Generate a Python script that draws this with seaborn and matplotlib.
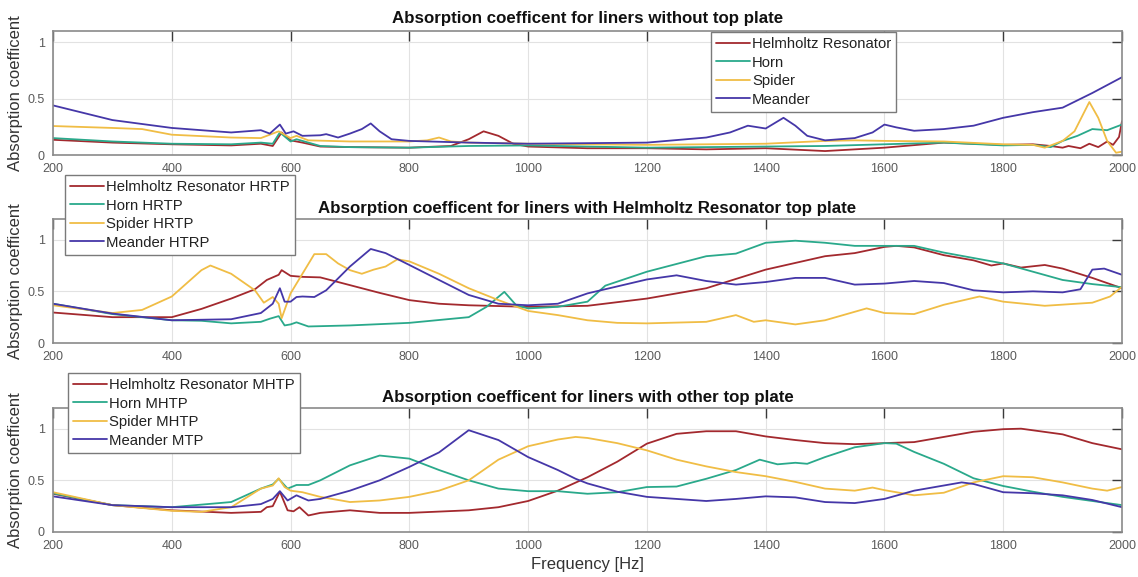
import numpy as np
import pandas as pd
import matplotlib.pyplot as plt
import seaborn as sns

# ---- panel 1: liners without top plate ----
hr_top_f = [200, 300, 400, 500, 550, 570, 585, 600, 620, 650, 700, 800, 870, 900, 925, 950, 975, 1000,
            1100, 1200, 1300, 1400, 1500, 1600, 1700, 1800, 1850, 1880, 1900, 1910, 1930, 1945, 1960,
            1975, 1985, 1995, 2000]
hr_top_a = [0.135, 0.11, 0.095, 0.085, 0.10, 0.08, 0.20, 0.13, 0.11, 0.075, 0.07, 0.065, 0.08, 0.14, 0.21,
            0.17, 0.10, 0.075, 0.06, 0.06, 0.05, 0.06, 0.035, 0.065, 0.11, 0.09, 0.095, 0.08, 0.065, 0.08,
            0.06, 0.10, 0.07, 0.12, 0.09, 0.16, 0.30]

horn_top_f = [200, 300, 400, 500, 550, 570, 582, 600, 610, 650, 700, 800, 900, 1000, 1100, 1200, 1400,
              1500, 1600, 1700, 1800, 1850, 1880, 1900, 1925, 1950, 1975, 2000]
horn_top_a = [0.15, 0.12, 0.10, 0.095, 0.11, 0.10, 0.20, 0.12, 0.14, 0.08, 0.07, 0.065, 0.08, 0.085,
              0.075, 0.065, 0.075, 0.08, 0.095, 0.11, 0.085, 0.09, 0.07, 0.125, 0.17, 0.23, 0.22, 0.27]

spider_top_f = [200, 300, 350, 400, 500, 550, 580, 600, 610, 630, 700, 800, 830, 850, 870, 900, 1000,
                1200, 1400, 1500, 1550, 1600, 1700, 1800, 1850, 1870, 1900, 1920, 1945, 1960, 1975,
                1990, 2000]
spider_top_a = [0.257, 0.24, 0.23, 0.18, 0.155, 0.15, 0.21, 0.15, 0.17, 0.13, 0.12, 0.12, 0.13, 0.155,
                0.12, 0.11, 0.10, 0.09, 0.10, 0.125, 0.13, 0.125, 0.12, 0.095, 0.09, 0.065, 0.125, 0.21,
                0.47, 0.33, 0.125, 0.02, 0.03]

meander_top_f = [200, 300, 400, 500, 550, 565, 582, 592, 605, 620, 650, 660, 680, 700, 720, 735, 750,
                 770, 800, 900, 1000, 1200, 1300, 1340, 1370, 1400, 1430, 1450, 1470, 1500, 1550, 1580,
                 1600, 1620, 1650, 1700, 1750, 1800, 1850, 1900, 1950, 2000]
meander_top_a = [0.44, 0.31, 0.24, 0.20, 0.22, 0.19, 0.27, 0.19, 0.21, 0.17, 0.175, 0.185, 0.155, 0.19,
                 0.23, 0.28, 0.21, 0.14, 0.125, 0.11, 0.10, 0.11, 0.155, 0.20, 0.26, 0.235, 0.33, 0.26,
                 0.17, 0.13, 0.15, 0.20, 0.27, 0.245, 0.215, 0.23, 0.26, 0.33, 0.38, 0.42, 0.55, 0.69]

# ---- panel 2: Helmholtz resonator top plate ----
hr_mid_f = [200, 300, 400, 450, 500, 540, 560, 580, 585, 600, 620, 650, 700, 750, 800, 850, 900, 1000,
            1100, 1200, 1300, 1400, 1500, 1550, 1600, 1620, 1650, 1700, 1750, 1780, 1800, 1830, 1870,
            1900, 1950, 2000]
hr_mid_a = [0.295, 0.25, 0.25, 0.33, 0.43, 0.52, 0.61, 0.66, 0.705, 0.65, 0.64, 0.635, 0.56, 0.485,
            0.415, 0.38, 0.365, 0.35, 0.36, 0.43, 0.53, 0.71, 0.84, 0.87, 0.93, 0.94, 0.925, 0.85, 0.80,
            0.75, 0.77, 0.73, 0.755, 0.72, 0.63, 0.53]

horn_mid_f = [200, 300, 400, 450, 500, 550, 565, 580, 590, 600, 610, 630, 700, 800, 900, 930, 960, 980,
              1000, 1050, 1100, 1130, 1200, 1300, 1350, 1400, 1450, 1500, 1550, 1600, 1650, 1700, 1800,
              1900, 1950, 2000]
horn_mid_a = [0.38, 0.28, 0.22, 0.215, 0.19, 0.205, 0.235, 0.26, 0.17, 0.18, 0.20, 0.16, 0.17, 0.195,
              0.25, 0.35, 0.495, 0.365, 0.335, 0.35, 0.40, 0.555, 0.69, 0.84, 0.865, 0.97, 0.99, 0.97,
              0.94, 0.94, 0.94, 0.875, 0.77, 0.61, 0.57, 0.54]

spider_mid_f = [200, 300, 350, 400, 450, 465, 500, 540, 555, 570, 580, 585, 600, 620, 640, 660, 680, 700,
                720, 740, 760, 780, 800, 850, 900, 950, 1000, 1050, 1100, 1150, 1200, 1300, 1350, 1380,
                1400, 1450, 1500, 1570, 1600, 1650, 1700, 1760, 1800, 1870, 1950, 1980, 2000]
spider_mid_a = [0.365, 0.29, 0.32, 0.45, 0.705, 0.75, 0.67, 0.51, 0.39, 0.445, 0.38, 0.24, 0.48, 0.67,
                0.86, 0.86, 0.77, 0.705, 0.67, 0.71, 0.74, 0.81, 0.79, 0.67, 0.53, 0.415, 0.31, 0.27,
                0.22, 0.195, 0.19, 0.205, 0.27, 0.205, 0.22, 0.18, 0.22, 0.335, 0.29, 0.28, 0.37, 0.45,
                0.40, 0.36, 0.39, 0.45, 0.545]

meander_mid_f = [200, 300, 400, 500, 550, 570, 582, 590, 600, 610, 620, 640, 660, 700, 735, 760, 800,
                 850, 900, 950, 1000, 1050, 1100, 1200, 1250, 1300, 1350, 1400, 1450, 1500, 1550, 1600,
                 1650, 1700, 1750, 1800, 1850, 1900, 1930, 1950, 1970, 2000]
meander_mid_a = [0.38, 0.285, 0.22, 0.23, 0.29, 0.38, 0.53, 0.40, 0.40, 0.445, 0.45, 0.445, 0.51, 0.74,
                 0.91, 0.87, 0.755, 0.61, 0.465, 0.38, 0.365, 0.38, 0.48, 0.615, 0.655, 0.60, 0.565,
                 0.59, 0.63, 0.63, 0.565, 0.575, 0.60, 0.58, 0.51, 0.49, 0.50, 0.49, 0.52, 0.71, 0.72,
                 0.66]

# ---- panel 3: other top plate ----
hr_bot_f = [200, 300, 400, 500, 550, 560, 570, 582, 595, 605, 615, 630, 650, 700, 750, 800, 900, 950,
            1000, 1050, 1100, 1150, 1200, 1250, 1300, 1350, 1400, 1450, 1500, 1550, 1600, 1650, 1700,
            1750, 1800, 1830, 1900, 1950, 2000]
hr_bot_a = [0.37, 0.26, 0.21, 0.185, 0.195, 0.24, 0.25, 0.39, 0.21, 0.20, 0.24, 0.16, 0.185, 0.21,
            0.185, 0.185, 0.21, 0.24, 0.30, 0.40, 0.53, 0.68, 0.855, 0.95, 0.975, 0.975, 0.925, 0.89,
            0.86, 0.85, 0.86, 0.87, 0.92, 0.97, 0.995, 1.0, 0.945, 0.86, 0.80]

horn_bot_f = [200, 300, 400, 500, 550, 570, 580, 595, 610, 630, 650, 700, 750, 800, 850, 900, 950, 1000,
              1050, 1100, 1150, 1200, 1250, 1300, 1350, 1390, 1420, 1450, 1470, 1500, 1550, 1600, 1620,
              1650, 1700, 1750, 1800, 1850, 1900, 1950, 2000]
horn_bot_a = [0.375, 0.26, 0.24, 0.29, 0.42, 0.46, 0.515, 0.42, 0.455, 0.455, 0.50, 0.645, 0.74, 0.71,
              0.60, 0.50, 0.42, 0.395, 0.395, 0.37, 0.385, 0.435, 0.44, 0.515, 0.60, 0.70, 0.655, 0.67,
              0.66, 0.725, 0.82, 0.86, 0.855, 0.775, 0.66, 0.52, 0.445, 0.39, 0.34, 0.30, 0.26]

spider_bot_f = [200, 300, 400, 450, 500, 550, 570, 580, 590, 600, 620, 650, 700, 750, 800, 850, 900, 950,
                1000, 1050, 1080, 1100, 1150, 1200, 1250, 1300, 1350, 1400, 1450, 1500, 1550, 1580,
                1600, 1650, 1700, 1750, 1800, 1850, 1900, 1950, 1975, 2000]
spider_bot_a = [0.385, 0.26, 0.205, 0.195, 0.24, 0.42, 0.45, 0.52, 0.435, 0.40, 0.385, 0.34, 0.29,
                0.305, 0.34, 0.40, 0.50, 0.70, 0.83, 0.895, 0.92, 0.91, 0.86, 0.79, 0.70, 0.635, 0.58,
                0.54, 0.485, 0.42, 0.40, 0.43, 0.405, 0.355, 0.38, 0.48, 0.54, 0.53, 0.48, 0.42, 0.40,
                0.435]

meander_bot_f = [200, 300, 400, 500, 550, 570, 582, 595, 610, 630, 650, 700, 750, 800, 850, 900, 950,
                 1000, 1050, 1080, 1100, 1150, 1200, 1250, 1300, 1350, 1400, 1450, 1500, 1550, 1600,
                 1650, 1700, 1730, 1750, 1800, 1850, 1900, 1950, 2000]
meander_bot_a = [0.345, 0.26, 0.24, 0.24, 0.27, 0.32, 0.395, 0.305, 0.355, 0.305, 0.32, 0.40, 0.50,
                 0.63, 0.77, 0.985, 0.89, 0.725, 0.60, 0.515, 0.47, 0.39, 0.34, 0.32, 0.30, 0.32, 0.345,
                 0.335, 0.29, 0.28, 0.32, 0.40, 0.45, 0.48, 0.465, 0.385, 0.375, 0.355, 0.31, 0.24]

titles = ["Absorption coefficent for liners without top plate",
          "Absorption coefficent for liners with Helmholtz Resonator top plate",
          "Absorption coefficent for liners with other top plate"]
labels_top = ["Helmholtz Resonator", "Horn", "Spider", "Meander"]
labels_mid = ["Helmholtz Resonator HRTP", "Horn HRTP", "Spider HRTP", "Meander HTRP"]
labels_bot = ["Helmholtz Resonator MHTP", "Horn MHTP", "Spider MHTP", "Meander MTP"]

colors = ["#a3292e", "#2aa98b", "#f0bd45", "#4537a8"]

sns.set_theme(style="white")
plt.rcParams['font.family'] = ['Liberation Sans', 'DejaVu Sans']

W, H = 1138, 577
fig = plt.figure(figsize=(W / 100, H / 100), dpi=100)


def axes_px(left, top, right, bottom):
    return fig.add_axes([left / W, 1 - bottom / H, (right - left) / W, (bottom - top) / H])


def draw_panel(ax, series, labels, ymax, title, title_pad, leg_xy):
    for (f, a), lab, c in zip(series, labels, colors):
        sns.lineplot(x=f, y=a, ax=ax, color=c, label=lab, linewidth=1.3)
    ax.set_xlim(200, 2000)
    ax.set_ylim(0, ymax)
    ax.set_xticks(range(200, 2001, 200))
    ax.set_yticks([0, 0.5, 1])
    ax.set_yticklabels(["0", "0.5", "1"])
    ax.grid(True, color="#e2e2e2", linewidth=0.8)
    ax.set_axisbelow(True)
    ax.tick_params(direction="in", top=True, right=True, length=7, width=1, color="#3a3a3a",
                   labelsize=9, labelcolor="#5a5a5a", pad=6)
    for s in ax.spines.values():
        s.set_color("#8a8a8a")
        s.set_linewidth(1.2)
    ax.set_title(title, fontsize=12.2, fontweight="bold", pad=title_pad, color="#111111")
    ax.set_ylabel("Absorption coefficent", fontsize=12, color="#333333", labelpad=3)
    ax.set_xlabel("")
    leg = ax.legend(loc="upper left", bbox_to_anchor=(leg_xy[0] / W, 1 - leg_xy[1] / H),
                    bbox_transform=fig.transFigure, borderaxespad=0, frameon=True, fancybox=False,
                    edgecolor="#7a7a7a", framealpha=1, fontsize=10.7, handlelength=2.3,
                    handletextpad=0.1, labelspacing=0.3, borderpad=0.35)
    leg.get_frame().set_linewidth(1.0)
    for t in leg.get_texts():
        t.set_color("#222222")


ax1 = axes_px(53, 31, 1122, 155)
draw_panel(ax1, [(hr_top_f, hr_top_a), (horn_top_f, horn_top_a), (spider_top_f, spider_top_a),
                 (meander_top_f, meander_top_a)], labels_top, 1.1, titles[0], 6, (711, 32))

ax2 = axes_px(53, 219, 1122, 343)
draw_panel(ax2, [(hr_mid_f, hr_mid_a), (horn_mid_f, horn_mid_a), (spider_mid_f, spider_mid_a),
                 (meander_mid_f, meander_mid_a)], labels_mid, 1.2, titles[1], 4, (65, 175))

ax3 = axes_px(53, 408, 1122, 532)
draw_panel(ax3, [(hr_bot_f, hr_bot_a), (horn_bot_f, horn_bot_a), (spider_bot_f, spider_bot_a),
                 (meander_bot_f, meander_bot_a)], labels_bot, 1.2, titles[2], 4, (68, 373))
ax3.set_xlabel("Frequency [Hz]", fontsize=12, color="#333333", labelpad=3)

fig.savefig("out.png", dpi=100)
